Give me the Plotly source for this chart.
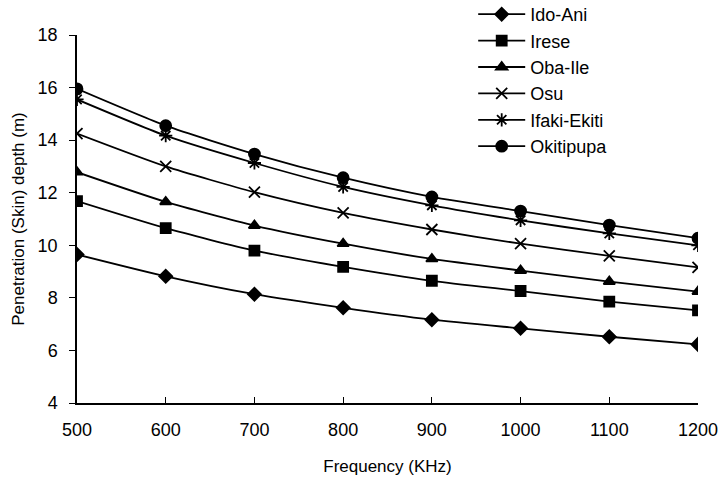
import plotly.graph_objects as go

frequency = [500, 600, 700, 800, 900, 1000, 1100, 1200]
ido_ani = [9.65, 8.82, 8.14, 7.62, 7.17, 6.84, 6.52, 6.23]
irese = [11.68, 10.65, 9.8, 9.18, 8.65, 8.26, 7.86, 7.52]
oba_ile = [12.78, 11.65, 10.75, 10.06, 9.48, 9.04, 8.62, 8.24]
osu = [14.25, 13.0, 12.02, 11.23, 10.6, 10.06, 9.6, 9.16]
ifaki_ekiti = [15.55, 14.17, 13.13, 12.22, 11.52, 10.95, 10.45, 10.0]
okitipupa = [15.95, 14.55, 13.47, 12.57, 11.84, 11.3, 10.77, 10.27]

series = [
    ("Ido-Ani", ido_ani, "diamond", 10),
    ("Irese", irese, "square", 10),
    ("Oba-Ile", oba_ile, "triangle-up", 10),
    ("Osu", osu, "x-thin", 11),
    ("Ifaki-Ekiti", ifaki_ekiti, "asterisk", 11),
    ("Okitipupa", okitipupa, "circle", 11),
]

fig = go.Figure()
for name, vals, sym, size in series:
    fig.add_trace(go.Scatter(
        x=frequency, y=vals, name=name, mode="lines+markers",
        line=dict(color="black", width=1.8, shape="spline", smoothing=0.6),
        marker=dict(symbol=sym, size=size, color="black",
                    line=dict(color="black", width=1.8)),
    ))

font = "Liberation Sans, Arial, sans-serif"
fig.update_layout(
    width=722, height=480,
    paper_bgcolor="white", plot_bgcolor="white",
    margin=dict(l=77, r=24, t=35, b=77, autoexpand=False),
    font=dict(family=font, size=17, color="black"),
    showlegend=True,
    legend=dict(x=0.638, y=1.106, xanchor="left", yanchor="top",
                bgcolor="rgba(0,0,0,0)", font=dict(size=18),
                tracegroupgap=0, itemwidth=47),
    xaxis=dict(range=[500, 1200], tickvals=frequency, automargin=False,
               title=dict(text="Frequency (KHz)", font=dict(size=17), standoff=21),
               showgrid=False, zeroline=False, showline=True, linecolor="black",
               linewidth=1.5, ticks="inside", ticklen=6, tickcolor="black",
               tickfont=dict(size=18), ticklabelstandoff=10),
    yaxis=dict(range=[4, 18], dtick=2, automargin=False,
               title=dict(text="Penetration (Skin) depth (m)", font=dict(size=17), standoff=9),
               showgrid=False, zeroline=False, showline=True, linecolor="black",
               linewidth=1.5, ticks="outside", ticklen=6, tickcolor="black",
               tickfont=dict(size=18), ticklabelstandoff=8),
)

fig.write_html("out.html", config={"displayModeBar": False},
               post_script="document.body.style.margin='0';")
